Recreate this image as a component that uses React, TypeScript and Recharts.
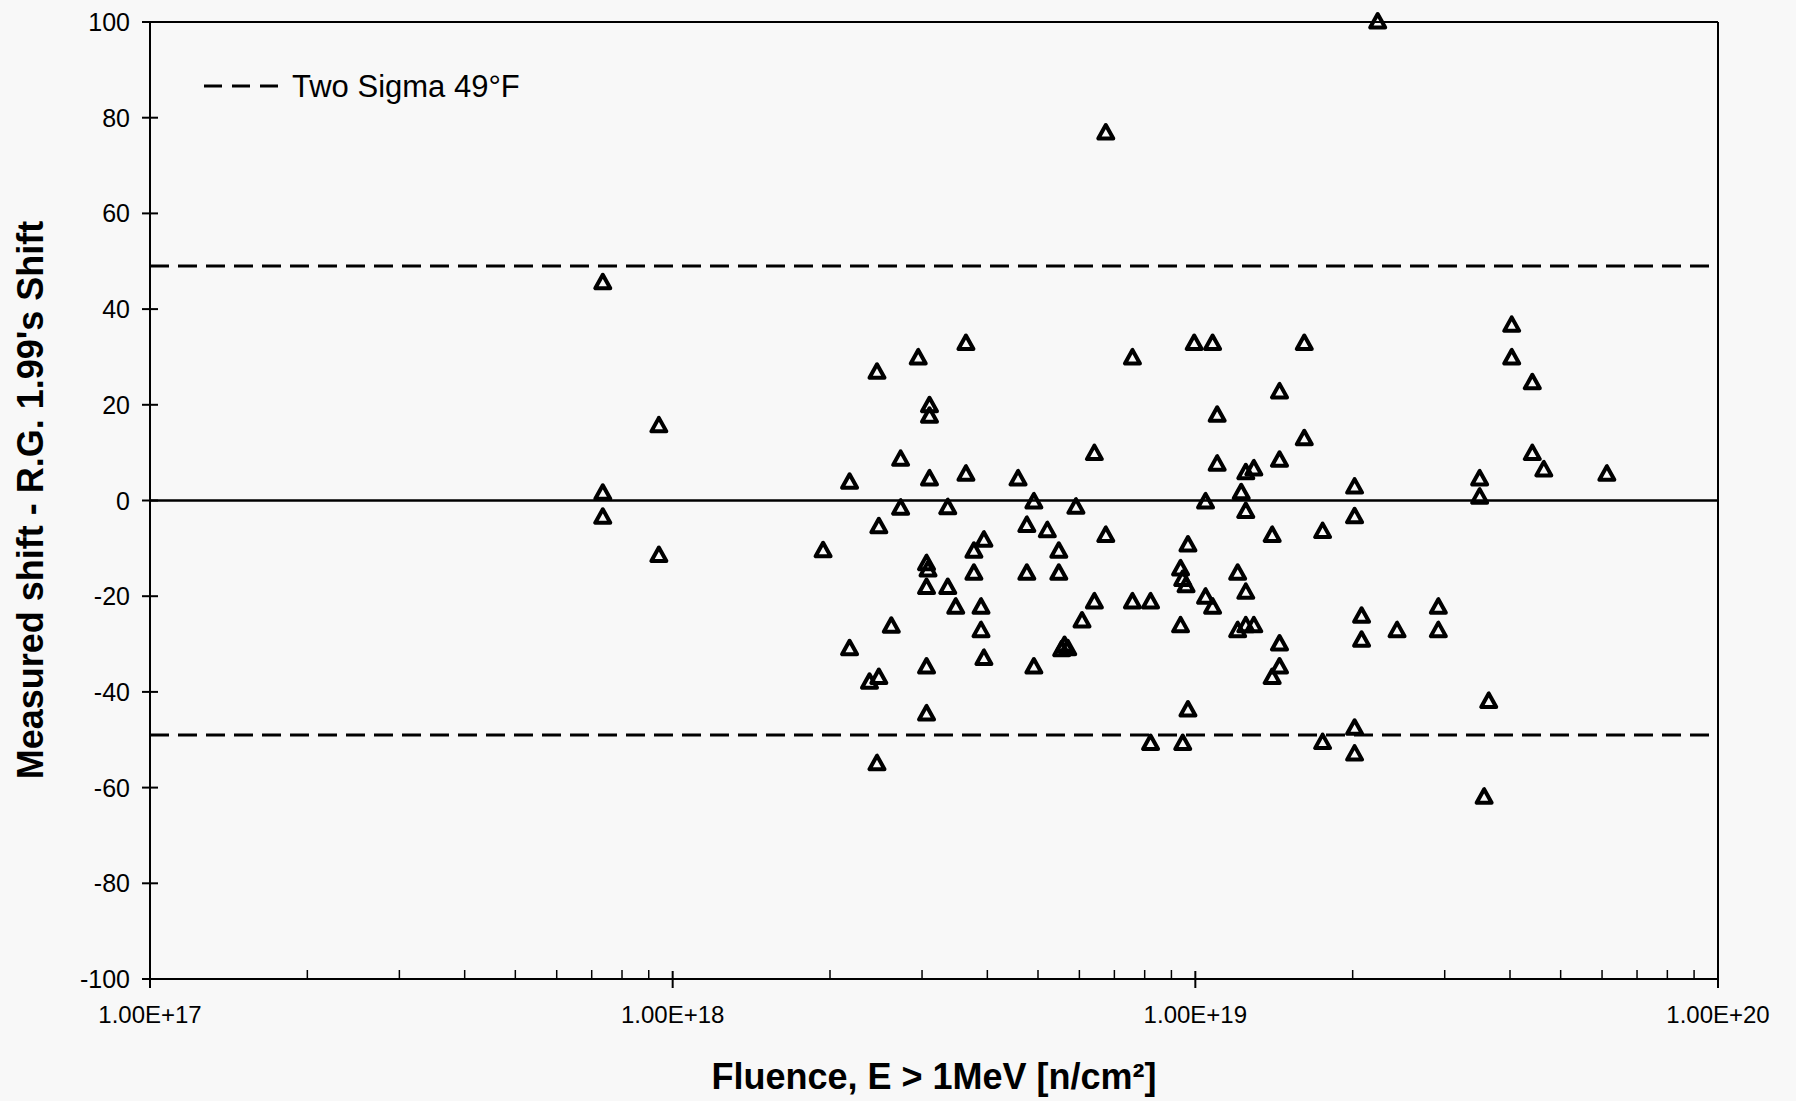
import { ScatterChart, Scatter, XAxis, YAxis, ReferenceLine } from 'recharts';

// fluence (n/cm2, E > 1 MeV) and measured shift minus R.G. 1.99 shift (deg F)
const fluence = [
    7.35e17, 7.35e17, 7.35e17, 9.41e17, 9.41e17, 1.94e18, 2.18e18, 2.18e18, 2.38e18, 2.46e18,
    2.48e18, 2.48e18, 2.46e18, 2.62e18, 2.73e18, 2.73e18, 2.95e18, 3.06e18, 3.08e18, 3.06e18,
    3.06e18, 3.06e18, 3.1e18, 3.1e18, 3.1e18, 3.36e18, 3.36e18, 3.48e18, 3.64e18, 3.64e18,
    3.77e18, 3.77e18, 3.89e18, 3.89e18, 3.94e18, 3.94e18, 4.58e18, 4.76e18, 4.76e18, 4.91e18,
    4.91e18, 5.21e18, 5.48e18, 5.48e18, 5.55e18, 5.62e18, 5.7e18, 5.91e18, 6.07e18, 6.41e18,
    6.41e18, 6.74e18, 6.74e18, 7.58e18, 7.58e18, 8.21e18, 8.21e18, 9.37e18, 9.46e18, 9.6e18,
    9.37e18, 9.46e18, 9.68e18, 9.68e18, 9.95e18, 1.079e19, 1.046e19, 1.046e19, 1.079e19, 1.101e19,
    1.101e19, 1.205e19, 1.205e19, 1.224e19, 1.249e19, 1.249e19, 1.249e19, 1.249e19, 1.294e19, 1.294e19,
    1.403e19, 1.403e19, 1.449e19, 1.449e19, 1.449e19, 1.449e19, 1.616e19, 1.616e19, 1.752e19, 1.752e19,
    2.017e19, 2.017e19, 2.017e19, 2.017e19, 2.08e19, 2.08e19, 2.233e19, 2.432e19, 2.917e19, 2.917e19,
    3.499e19, 3.499e19, 3.642e19, 3.569e19, 4.03e19, 4.03e19, 4.413e19, 4.413e19, 4.642e19, 6.128e19,
];
const shift = [
    45.5, 1.5, -3.5, 15.6, -11.5, -10.5, 3.8, -31, -38, 26.8,
    -5.5, -37, -55, -26.3, 8.6, -1.6, 29.8, -13.2, -14.5, -18.2,
    -34.8, -44.6, 19.8, 17.6, 4.5, -1.5, -18.2, -22.3, 32.8, 5.5,
    -10.6, -15.2, -22.3, -27.2, -8.3, -33, 4.5, -5.2, -15.2, -0.3,
    -34.8, -6.3, -10.6, -15.2, -31.2, -30.3, -31, -1.4, -25.2, 9.8,
    -21.2, 76.8, -7.3, 29.8, -21.2, -21.2, -50.8, -14.3, -16.5, -17.8,
    -26.2, -50.8, -9.3, -43.8, 32.8, 32.8, -0.3, -20.2, -22.3, 17.8,
    7.6, -15.2, -27.2, 1.6, 5.8, -2.3, -19.2, -26.2, -26.2, 6.6,
    -7.3, -37, 22.7, 8.4, -30, -34.8, 32.8, 12.9, -6.5, -50.6,
    2.8, -3.4, -47.6, -53, -24.2, -29.2, 100, -27.2, -22.3, -27.2,
    4.5, 0.7, -42, -62, 36.6, 29.8, 24.6, 9.8, 6.4, 5.5,
];

const xTicks = [1e17, 1e18, 1e19, 1e20];
const xMinorTicks = [
    2e17, 3e17, 4e17, 5e17, 6e17, 7e17, 8e17, 9e17,
    2e18, 3e18, 4e18, 5e18, 6e18, 7e18, 8e18, 9e18,
    2e19, 3e19, 4e19, 5e19, 6e19, 7e19, 8e19, 9e19,
];
const yTicks = [-100, -80, -60, -40, -20, 0, 20, 40, 60, 80, 100];
const twoSigma = 49;

const points = fluence.map((f, i) => ({ fluence: f, shift: shift[i] }));
const font = "'Liberation Sans', Arial, sans-serif";

function Triangle(props: any) {
    const { cx, cy } = props;
    return (
        <polygon
            points={`${cx},${cy - 8} ${cx - 7.5},${cy + 5.5} ${cx + 7.5},${cy + 5.5}`}
            fill="none"
            stroke="#000"
            strokeWidth={4}
            strokeLinejoin="round"
        />
    );
}

function FluenceTick(props: any) {
    const { x, y, payload } = props;
    if (!xTicks.includes(payload.value)) {
        return <line x1={x} x2={x} y1={y} y2={y - 9} stroke="#000" strokeWidth={1.5} />;
    }
    const exp = Math.round(Math.log10(payload.value));
    return (
        <g>
            <line x1={x} x2={x} y1={y - 8} y2={y + 9} stroke="#000" strokeWidth={2} />
            <text x={x} y={y + 44} textAnchor="middle" fontSize={24} fontFamily={font} fill="#000">
                {`1.00E+${exp}`}
            </text>
        </g>
    );
}

function ShiftTick(props: any) {
    const { x, y, payload } = props;
    return (
        <g>
            <line x1={x - 8} x2={x + 8} y1={y} y2={y} stroke="#000" strokeWidth={2} />
            <text x={x - 20} y={y + 9} textAnchor="end" fontSize={25} fontFamily={font} fill="#000">
                {payload.value}
            </text>
        </g>
    );
}

export default function App() {
    return (
        <div
            style={{
                position: 'absolute',
                left: 0,
                top: 0,
                width: 1796,
                height: 1101,
                background: '#f8f8f8',
                fontFamily: font,
            }}
        >
            <ScatterChart
                width={1796}
                height={1101}
                margin={{ top: 22, right: 78, bottom: 62, left: 70 }}
            >
                <XAxis
                    type="number"
                    dataKey="fluence"
                    scale="log"
                    domain={[1e17, 1e20]}
                    ticks={[...xTicks, ...xMinorTicks]}
                    interval={0}
                    tick={<FluenceTick />}
                    tickLine={false}
                    tickSize={0}
                    tickMargin={0}
                    height={60}
                    axisLine={{ stroke: '#000', strokeWidth: 2 }}
                />
                <YAxis
                    type="number"
                    dataKey="shift"
                    domain={[-100, 100]}
                    ticks={yTicks}
                    interval={0}
                    tick={<ShiftTick />}
                    tickLine={false}
                    tickSize={0}
                    tickMargin={0}
                    width={80}
                    axisLine={{ stroke: '#000', strokeWidth: 2 }}
                />
                <ReferenceLine y={100} stroke="#000" strokeWidth={2} />
                <ReferenceLine x={1e20} stroke="#000" strokeWidth={2} />
                <ReferenceLine y={0} stroke="#000" strokeWidth={2.5} />
                <ReferenceLine y={twoSigma} stroke="#000" strokeWidth={3} strokeDasharray="19 9" />
                <ReferenceLine y={-twoSigma} stroke="#000" strokeWidth={3} strokeDasharray="19 9" />
                <Scatter data={points} shape={<Triangle />} isAnimationActive={false} />
            </ScatterChart>

            <svg
                width={1796}
                height={1101}
                style={{ position: 'absolute', left: 0, top: 0, pointerEvents: 'none' }}
            >
                <line x1={204} x2={280} y1={86} y2={86} stroke="#000" strokeWidth={3} strokeDasharray="18 10" />
                <text x={292} y={97} fontSize={31} fontFamily={font} fill="#000">
                    Two Sigma 49°F
                </text>
                <text
                    x={0}
                    y={0}
                    transform="translate(43,500) rotate(-90)"
                    textAnchor="middle"
                    fontSize={36}
                    fontWeight="bold"
                    fontFamily={font}
                    fill="#000"
                >
                    Measured shift - R.G. 1.99's Shift
                </text>
                <text
                    x={934}
                    y={1089}
                    textAnchor="middle"
                    fontSize={36}
                    fontWeight="bold"
                    fontFamily={font}
                    fill="#000"
                >
                    Fluence, E &gt; 1MeV [n/cm²]
                </text>
            </svg>
        </div>
    );
}
